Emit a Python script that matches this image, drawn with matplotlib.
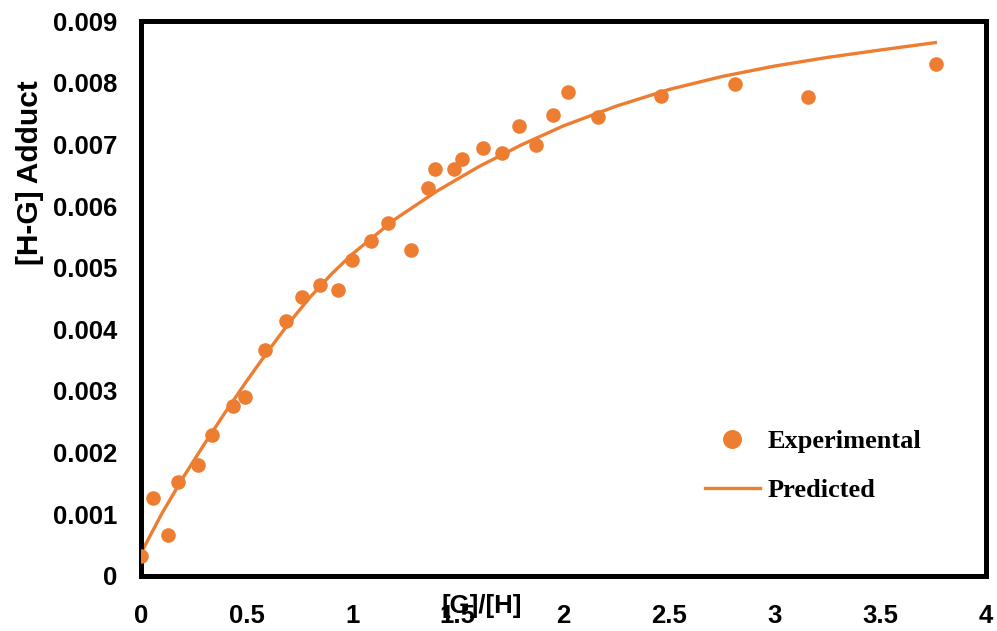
import numpy as np
import matplotlib.pyplot as plt
from matplotlib.transforms import ScaledTranslation

# Titration data: guest/host ratio vs adduct concentration
ratio_exp = [0.0, 0.058, 0.129, 0.177, 0.271, 0.338, 0.434, 0.492, 0.587, 0.686,
             0.762, 0.847, 0.933, 1.0, 1.089, 1.171, 1.280, 1.357, 1.392, 1.483,
             1.518, 1.621, 1.707, 1.791, 1.870, 1.952, 2.021, 2.162, 2.462, 2.812,
             3.159, 3.762]
adduct_exp = [0.00033, 0.00127, 0.000665, 0.00153, 0.0018, 0.00229, 0.00276, 0.0029,
              0.00366, 0.00413, 0.00452, 0.00472, 0.00464, 0.00512, 0.00544, 0.00572,
              0.00528, 0.0063, 0.0066, 0.0066, 0.00677, 0.00694, 0.00686, 0.0073,
              0.00699, 0.00748, 0.00785, 0.00744, 0.00779, 0.00798, 0.00776, 0.00831]

# Fitted isotherm
ratio_fit = [0.0, 0.1, 0.2, 0.3, 0.4, 0.5, 0.6, 0.7, 0.8, 0.9, 1.0, 1.2, 1.4, 1.6,
             1.8, 2.0, 2.25, 2.5, 2.75, 3.0, 3.25, 3.5, 3.76]
adduct_fit = [0.00037, 0.00102, 0.0016, 0.00214, 0.00266, 0.00316, 0.00364, 0.0041,
              0.00452, 0.00489, 0.00522, 0.00578, 0.00624, 0.00664, 0.00699, 0.0073,
              0.00762, 0.00789, 0.0081, 0.00827, 0.00841, 0.00853, 0.00865]

orange = '#ED7D31'

fig = plt.figure(figsize=(9.97, 6.31), dpi=100)
ax = fig.add_axes([0.1414, 0.0872, 0.8476, 0.8795])

ax.plot(ratio_fit, adduct_fit, color=orange, lw=2.4, label='Predicted', zorder=2,
        solid_joinstyle='round')
ax.plot(ratio_exp, adduct_exp, 'o', color=orange, ms=10.5, mec='none',
        label='Experimental', zorder=3)

ax.set_xlim(0, 4)
ax.set_ylim(0, 0.009)
ax.set_xticks(np.arange(0, 4.01, 0.5))
ax.set_xticklabels(['0', '0.5', '1', '1.5', '2', '2.5', '3', '3.5', '4'])
ax.set_yticks(np.arange(0, 0.00901, 0.001))
ax.set_yticklabels(['0', '0.001', '0.002', '0.003', '0.004', '0.005', '0.006',
                    '0.007', '0.008', '0.009'])

for lab in ax.get_xticklabels() + ax.get_yticklabels():
    lab.set_fontfamily('Liberation Sans')
    lab.set_fontweight('bold')
    lab.set_fontsize(18.5)
# y labels sit a little below their gridline positions
shift = ScaledTranslation(0, -0.04, fig.dpi_scale_trans)
for lab in ax.get_yticklabels():
    lab.set_transform(lab.get_transform() + shift)
ax.tick_params(axis='both', length=0)
ax.tick_params(axis='y', pad=17)
ax.tick_params(axis='x', pad=20)

for sp in ax.spines.values():
    sp.set_linewidth(3.6)
    sp.set_color('black')

fig.text(0.030, 0.727, '[H-G] Adduct', rotation=90, ha='center', va='center',
         fontsize=21.5, fontweight='bold', family='Liberation Sans')
fig.text(0.483, 0.040, '[G]/[H]', ha='center', va='center',
         fontsize=18.5, fontweight='bold', family='Liberation Sans')

handles, labels = ax.get_legend_handles_labels()
ax.legend(handles[::-1], labels[::-1], loc='upper left',
          bbox_to_anchor=(0.667, 0.263), frameon=False,
          prop={'family': 'Liberation Serif', 'weight': 'bold', 'size': 19},
          handlelength=2.1, handletextpad=0.27, labelspacing=0.95, borderaxespad=0,
          borderpad=0, markerscale=1.3)

fig.savefig('out.png', dpi=100)
